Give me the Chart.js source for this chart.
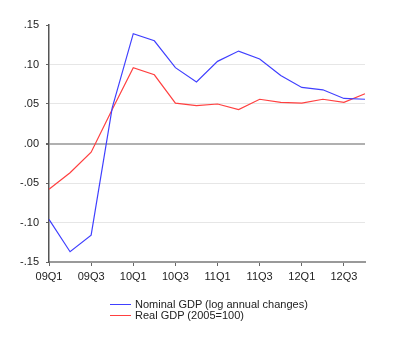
<!DOCTYPE html>
<html>
<head>
<meta charset="utf-8">
<script src="https://cdn.jsdelivr.net/npm/chart.js@4"></script>
<style>
    body { margin: 0; background: #fff; }
    #wrap { position: relative; width: 400px; height: 348px; }
    .leg { position: absolute; left: 110px; font: 11px "Liberation Sans", Arial, sans-serif; color: #222; white-space: nowrap; }
    .leg span { display: inline-block; width: 21px; height: 0; border-top: 1px solid; vertical-align: middle; margin-right: 4px; position: relative; top: -1px; }
</style>
</head>
<body>
<div id="wrap">
    <canvas id="gdpChart" width="400" height="348"></canvas>
    <div class="leg" style="top: 298px;"><span style="border-color: #4040ff;"></span>Nominal GDP (log annual changes)</div>
    <div class="leg" style="top: 309px;"><span style="border-color: #ff4040;"></span>Real GDP (2005=100)</div>
</div>
<script>
// Quarterly data, 2009Q1 - 2012Q4
const quarters = ['09Q1', '09Q2', '09Q3', '09Q4', '10Q1', '10Q2', '10Q3', '10Q4',
                  '11Q1', '11Q2', '11Q3', '11Q4', '12Q1', '12Q2', '12Q3', '12Q4'];
const nominalGdp = [-0.096, -0.137, -0.116, 0.045, 0.139, 0.130, 0.096, 0.078,
                    0.104, 0.117, 0.107, 0.086, 0.071, 0.068, 0.057, 0.056];
const realGdp = [-0.058, -0.037, -0.011, 0.043, 0.096, 0.087, 0.051, 0.048,
                 0.050, 0.043, 0.056, 0.052, 0.051, 0.056, 0.052, 0.063];
const yTicks = [-0.15, -0.10, -0.05, 0.00, 0.05, 0.10, 0.15];

// .15 / -.05 style labels
function fmt(v) {
    if (Math.abs(v) < 1e-9) v = 0;
    return v.toFixed(2).replace('0.', '.');
}

const ctx = document.getElementById('gdpChart').getContext('2d');
new Chart(ctx, {
    type: 'line',
    data: {
        labels: quarters,
        datasets: [
            { label: 'Nominal GDP (log annual changes)', data: nominalGdp, borderColor: '#4040ff', borderWidth: 1.2, pointRadius: 0, tension: 0 },
            { label: 'Real GDP (2005=100)', data: realGdp, borderColor: '#ff4040', borderWidth: 1.2, pointRadius: 0, tension: 0 }
        ]
    },
    options: {
        responsive: false,
        animation: false,
        layout: { padding: { left: 0, right: 35, top: 25, bottom: 0 } },
        plugins: { legend: { display: false }, tooltip: { enabled: false } },
        scales: {
            x: {
                type: 'category',
                offset: false,
                border: { color: '#999', width: 2 },
                grid: { drawOnChartArea: false, tickLength: 4, tickColor: '#666' },
                ticks: {
                    autoSkip: false, maxRotation: 0, padding: 4,
                    color: '#222', font: { family: 'Liberation Sans', size: 11 },
                    callback: (v, i) => (i % 2 === 0 ? quarters[i] : null)
                },
                afterFit: s => { s.height = 86; }
            },
            y: {
                min: -0.15, max: 0.15,
                afterBuildTicks: s => { s.ticks = yTicks.map(v => ({ value: v })); },
                border: { color: '#555', width: 1.5 },
                grid: {
                    tickLength: 3,
                    tickColor: '#666',
                    color: c => {
                        const v = c.tick ? c.tick.value : 1;
                        if (Math.abs(v) < 1e-9) return '#b0b0b0';
                        if (Math.abs(Math.abs(v) - 0.15) < 1e-9) return 'rgba(0,0,0,0)';
                        return '#e6e6e6';
                    },
                    lineWidth: c => (c.tick && Math.abs(c.tick.value) < 1e-9 ? 2 : 1)
                },
                ticks: {
                    padding: 7,
                    color: '#222', font: { family: 'Liberation Sans', size: 11 },
                    callback: v => fmt(v)
                },
                afterFit: s => { s.width = 49; }
            }
        }
    }
});
</script>
</body>
</html>
